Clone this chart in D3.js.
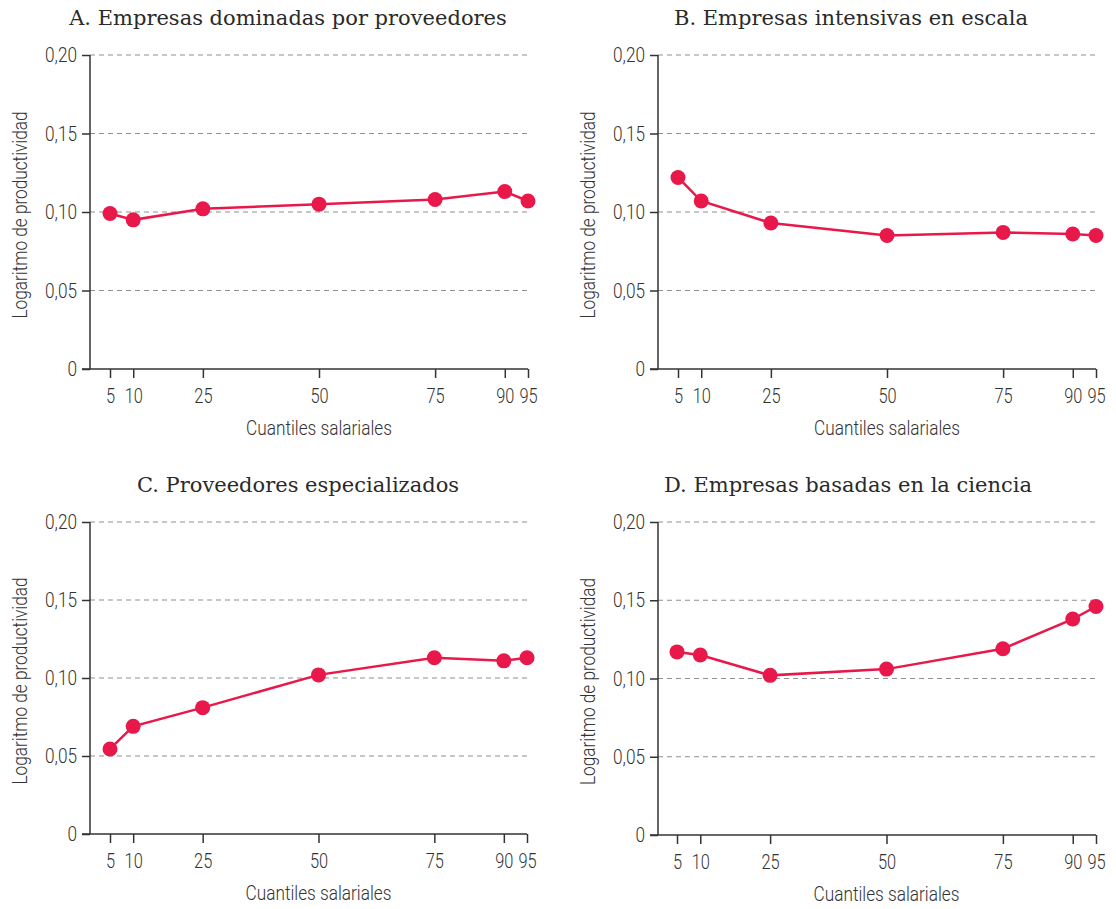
<!DOCTYPE html>
<html>
<head>
<meta charset="utf-8">
<script src="https://cdn.jsdelivr.net/npm/d3@7"></script>
<style>
  html, body { margin: 0; padding: 0; background: #fff; }
  svg { display: block; }
  .title { font-family: "DejaVu Serif", serif; font-size: 21px; fill: #2a2a2a; }
  .lbl, .tick text { font-family: "Roboto", "Liberation Sans", sans-serif; font-weight: 300; font-size: 21px; fill: #333; }
</style>
</head>
<body>
<svg id="chart" width="1116" height="909"></svg>
<script>
// Wage quantiles (x) shared by every panel
const quantiles = [5, 10, 25, 50, 75, 90, 95];
const yTicks = [0, 0.05, 0.10, 0.15, 0.20];

// Log productivity per quantile, one series per firm type
const dominadasProveedores = [0.099, 0.095, 0.102, 0.105, 0.108, 0.113, 0.107];
const intensivasEscala     = [0.122, 0.107, 0.093, 0.085, 0.087, 0.086, 0.085];
const proveedoresEspec     = [0.0545, 0.069, 0.081, 0.102, 0.113, 0.111, 0.113];
const basadasCiencia       = [0.117, 0.115, 0.102, 0.106, 0.119, 0.138, 0.146];

const titles = [
  "A. Empresas dominadas por proveedores",
  "B. Empresas intensivas en escala",
  "C. Proveedores especializados",
  "D. Empresas basadas en la ciencia"
];
const seriesList = [dominadasProveedores, intensivasEscala, proveedoresEspec, basadasCiencia];

const xLabel = "Cuantiles salariales";
const yLabel = "Logaritmo de productividad";
const red = "#e8194a";
const SX = 0.82; // horizontal squeeze for the condensed sans labels

// Panel frames (plot-area geometry)
const frames = [
  { axisX: 90,  x0: 110, x1: 528,  yTop: 55,  yBot: 369, titleX: 288 },
  { axisX: 658, x0: 678, x1: 1096, yTop: 55,  yBot: 369, titleX: 851 },
  { axisX: 90,  x0: 110, x1: 527,  yTop: 522, yBot: 834, titleX: 298 },
  { axisX: 658, x0: 677, x1: 1096, yTop: 522, yBot: 835, titleX: 848 }
];

const svg = d3.select("#chart");
const fmt = d => d === 0 ? "0" : d3.format(".2f")(d).replace(".", ",");

// turn a text's x/y into a translate so it can be squeezed around its anchor
function squeeze(sel, extra = "", sx = SX) {
  sel.each(function () {
    const t = d3.select(this);
    const x = +t.attr("x") || 0, y = +t.attr("y") || 0;
    t.attr("x", null).attr("y", null)
     .attr("transform", `translate(${x},${y}) ${extra} scale(${sx},1)`);
  });
}

frames.forEach((f, i) => {
  const g = svg.append("g");
  const x = d3.scaleLinear().domain([5, 95]).range([f.x0, f.x1]);
  const y = d3.scaleLinear().domain([0, 0.20]).range([f.yBot, f.yTop]);

  // dashed gridlines
  g.append("g").selectAll("line")
    .data(yTicks.filter(d => d > 0))
    .join("line")
    .attr("x1", f.axisX).attr("x2", f.x1)
    .attr("y1", d => y(d)).attr("y2", d => y(d))
    .attr("stroke", "#8f8f8f").attr("stroke-width", 1)
    .attr("stroke-dasharray", "5,4");

  // y axis
  const yAxis = g.append("g")
    .attr("transform", `translate(${f.axisX},0)`)
    .call(d3.axisLeft(y).tickValues(yTicks).tickFormat(fmt).tickSize(8).tickPadding(5));
  yAxis.select(".domain").attr("stroke", "#333").attr("stroke-width", 1.5)
    .attr("d", `M0,${f.yTop}V${f.yBot}`);
  yAxis.selectAll(".tick line").attr("stroke", "#333").attr("stroke-width", 1.5);
  squeeze(yAxis.selectAll(".tick text"));

  // x axis
  const xAxis = g.append("g")
    .attr("transform", `translate(0,${f.yBot})`)
    .call(d3.axisBottom(x).tickValues(quantiles).tickSize(9).tickPadding(10));
  xAxis.select(".domain").attr("stroke", "#333").attr("stroke-width", 1.5)
    .attr("d", `M${f.axisX - 8},0H${f.x1}`);
  xAxis.selectAll(".tick line").attr("stroke", "#333").attr("stroke-width", 1.5);
  squeeze(xAxis.selectAll(".tick text"), "", 0.78);

  // title
  g.append("text").attr("class", "title")
    .attr("x", f.titleX).attr("y", f.yTop - 30)
    .attr("text-anchor", "middle").text(titles[i]);

  // axis titles
  g.append("text").attr("class", "lbl")
    .attr("x", (f.x0 + f.x1) / 2).attr("y", f.yBot + 66)
    .attr("text-anchor", "middle").text(xLabel)
    .call(squeeze);
  g.append("text").attr("class", "lbl")
    .attr("x", f.axisX - 63).attr("y", (f.yTop + f.yBot) / 2 + 3)
    .attr("text-anchor", "middle").text(yLabel)
    .call(s => squeeze(s, "rotate(-90)"));

  // series
  const pts = quantiles.map((q, j) => [q, seriesList[i][j]]);
  g.append("path")
    .datum(pts)
    .attr("fill", "none").attr("stroke", red).attr("stroke-width", 2.5)
    .attr("d", d3.line().x(d => x(d[0])).y(d => y(d[1])));
  g.append("g").selectAll("circle")
    .data(pts).join("circle")
    .attr("cx", d => x(d[0])).attr("cy", d => y(d[1]))
    .attr("r", 7.5).attr("fill", red);
});
</script>
</body>
</html>
